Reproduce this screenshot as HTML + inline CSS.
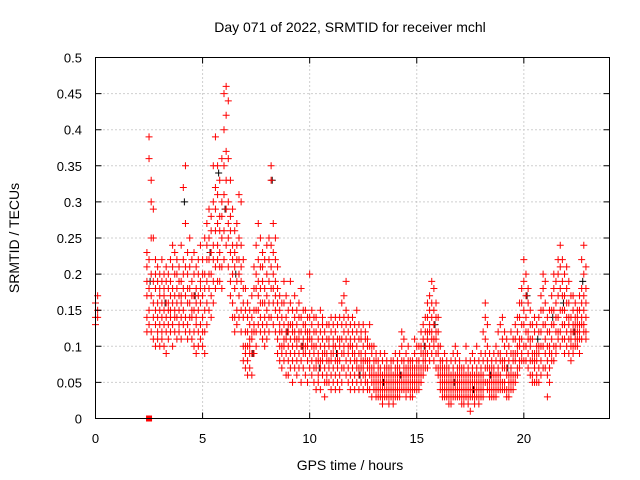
<!DOCTYPE html>
<html><head><meta charset="utf-8">
<style>
html,body{margin:0;padding:0;background:#fff;}
svg{display:block;font-family:"Liberation Sans",sans-serif;}
</style></head>
<body>
<svg id="chart" width="640" height="480" viewBox="0 0 640 480" xmlns="http://www.w3.org/2000/svg">
<rect x="0" y="0" width="640" height="480" fill="#fff"/>
<g id="grid"></g>
<g id="black-series"></g>
<g id="red-series"></g>
<rect x="95.5" y="57.5" width="514" height="361" fill="none" stroke="#000" stroke-width="1"/>
<g id="axes"></g>
<text x="350" y="32" font-size="14" text-anchor="middle">Day 071 of 2022, SRMTID for receiver mchl</text>
<text x="350" y="470" font-size="14" text-anchor="middle">GPS time / hours</text>
<text x="19" y="238" font-size="14" text-anchor="middle" transform="rotate(-90 19 238)">SRMTID / TECUs</text>
</svg>
<script>
const xTicks=[0,5,10,15,20];
const yTicks=[0,0.05,0.1,0.15,0.2,0.25,0.3,0.35,0.4,0.45,0.5];
const yTickLabels=["0","0.05","0.1","0.15","0.2","0.25","0.3","0.35","0.4","0.45","0.5"];
const hours=[0.0,0.1,2.4,2.5,2.6,2.7,2.8,2.9,3.0,3.1,3.2,3.3,3.4,3.5,3.6,3.7,3.8,3.9,4.0,4.1,4.2,4.3,4.4,4.5,4.6,4.7,4.8,4.9,5.0,5.1,5.2,5.3,5.4,5.5,5.6,5.7,5.8,5.9,6.0,6.1,6.2,6.3,6.4,6.5,6.6,6.7,6.8,6.9,7.0,7.1,7.2,7.3,7.4,7.5,7.6,7.7,7.8,7.9,8.0,8.1,8.2,8.3,8.4,8.5,8.6,8.7,8.8,8.9,9.0,9.1,9.2,9.3,9.4,9.5,9.6,9.7,9.8,9.9,10.0,10.1,10.2,10.3,10.4,10.5,10.6,10.7,10.8,10.9,11.0,11.1,11.2,11.3,11.4,11.5,11.6,11.7,11.8,11.9,12.0,12.1,12.2,12.3,12.4,12.5,12.6,12.7,12.8,12.9,13.0,13.1,13.2,13.3,13.4,13.5,13.6,13.7,13.8,13.9,14.0,14.1,14.2,14.3,14.4,14.5,14.6,14.7,14.8,14.9,15.0,15.1,15.2,15.3,15.4,15.5,15.6,15.7,15.8,15.9,16.0,16.1,16.2,16.3,16.4,16.5,16.6,16.7,16.8,16.9,17.0,17.1,17.2,17.3,17.4,17.5,17.6,17.7,17.8,17.9,18.0,18.1,18.2,18.3,18.4,18.5,18.6,18.7,18.8,18.9,19.0,19.1,19.2,19.3,19.4,19.5,19.6,19.7,19.8,19.9,20.0,20.1,20.2,20.3,20.4,20.5,20.6,20.7,20.8,20.9,21.0,21.1,21.2,21.3,21.4,21.5,21.6,21.7,21.8,21.9,22.0,22.1,22.2,22.3,22.4,22.5,22.6,22.7,22.8,22.9];
const srmtid=[
[.14,.16,.13],[.15,.17,.14],
[.17,.21,.14,.19,.23,.12],[.39,.36,.18,.15,.22,.13],[.30,.33,.25,.12,.17,.20],[.29,.25,.16,.11,.19,.14],[.18,.22,.10,.15,.13,.20],[.16,.12,.19,.14,.21,.11],
[.15,.20,.13,.17,.10,.18],[.14,.19,.12,.16,.22,.11],[.17,.13,.20,.15,.10,.18],[.16,.21,.14,.12,.19,.09],[.13,.18,.15,.20,.11,.16],[.19,.14,.22,.12,.17,.15],[.16,.21,.13,.18,.10,.24],[.20,.15,.17,.12,.23,.14],[.18,.22,.14,.16,.11,.20],[.15,.19,.13,.21,.17,.12],
[.17,.24,.14,.19,.11,.16],[.32,.20,.15,.18,.13,.22],[.35,.27,.17,.14,.21,.12],[.18,.23,.13,.16,.20,.11],[.16,.21,.12,.25,.14,.18],[.19,.14,.22,.17,.11,.15],[.15,.20,.12,.23,.17,.10],[.13,.18,.16,.21,.09,.14],[.17,.12,.20,.15,.10,.22],[.16,.19,.13,.24,.11,.18],
[.14,.20,.17,.10,.22,.12],[.18,.15,.25,.12,.20,.09],[.22,.27,.16,.19,.13,.24],[.25,.20,.29,.15,.22,.18],[.23,.17,.28,.20,.14,.26],[.30,.24,.35,.19,.22,.16],[.39,.26,.32,.21,.18,.29],[.35,.27,.22,.31,.19,.24],[.28,.23,.33,.19,.26,.21],[.30,.36,.25,.21,.28,.18],
[.45,.40,.31,.26,.22,.35],[.46,.42,.37,.29,.24,.33],[.44,.36,.30,.27,.21,.25],[.33,.28,.23,.19,.26,.17],[.29,.24,.20,.16,.22,.14],[.26,.21,.18,.14,.23,.12],[.24,.19,.22,.15,.27,.13],[.31,.22,.17,.25,.14,.20],[.30,.19,.24,.15,.21,.12],[.18,.14,.22,.10,.16,.08],
[.15,.10,.12,.07,.18,.09],[.12,.08,.14,.06,.10,.16],[.10,.13,.07,.11,.09,.15],[.14,.09,.12,.06,.17,.11],[.18,.12,.15,.09,.21,.13],[.20,.15,.24,.12,.18,.10],[.22,.17,.27,.13,.19,.15],[.25,.18,.21,.14,.16,.12],[.21,.16,.19,.13,.23,.11],[.18,.14,.22,.12,.16,.10],
[.17,.13,.20,.11,.15,.24],[.22,.16,.25,.12,.19,.14],[.35,.33,.24,.18,.14,.21],[.27,.20,.16,.23,.13,.18],[.25,.19,.15,.22,.12,.17],[.21,.14,.18,.11,.16,.09],[.17,.12,.15,.08,.13,.10],[.14,.10,.12,.07,.16,.09],[.16,.11,.13,.08,.19,.10],[.14,.09,.12,.06,.11,.17],
[.12,.08,.15,.10,.06,.13],[.16,.11,.09,.13,.07,.19],[.13,.10,.15,.08,.12,.05],[.11,.14,.09,.17,.07,.12],[.10,.13,.08,.15,.06,.11],[.12,.09,.16,.07,.11,.14],[.14,.10,.18,.08,.12,.05],[.11,.15,.09,.13,.07,.10],[.13,.09,.12,.06,.15,.10],[.10,.14,.08,.11,.05,.12],
[.20,.12,.09,.14,.07,.11],[.11,.08,.13,.06,.10,.15],[.09,.12,.07,.14,.05,.10],[.10,.07,.12,.08,.14,.04],[.08,.11,.06,.13,.09,.05],[.12,.08,.15,.07,.10,.04],[.09,.13,.06,.11,.08,.14],[.10,.07,.12,.05,.09,.03],[.08,.11,.06,.13,.09,.05],[.11,.07,.10,.05,.08,.13],
[.09,.06,.12,.08,.14,.04],[.10,.07,.13,.05,.09,.11],[.12,.08,.06,.10,.04,.14],[.09,.13,.07,.11,.05,.08],[.11,.08,.14,.06,.10,.04],[.13,.09,.07,.16,.11,.05],[.17,.12,.09,.14,.07,.10],[.19,.15,.11,.08,.13,.06],[.14,.10,.07,.12,.05,.09],[.11,.08,.13,.06,.10,.04],
[.10,.07,.12,.05,.09,.14],[.08,.11,.06,.13,.04,.09],[.10,.07,.12,.05,.08,.15],[.09,.06,.11,.04,.13,.07],[.11,.07,.09,.05,.12,.08],[.08,.10,.06,.13,.04,.07],[.09,.06,.11,.05,.08,.12],[.07,.10,.05,.08,.04,.11],[.08,.06,.10,.04,.07,.13],[.06,.09,.05,.07,.03,.10],
[.07,.05,.08,.04,.10,.06],[.05,.08,.04,.06,.03,.09],[.06,.04,.07,.03,.05,.08],[.05,.07,.03,.06,.04,.09],[.04,.06,.03,.05,.08,.02],[.06,.04,.07,.03,.05,.09],[.05,.07,.03,.06,.04,.08],[.04,.06,.02,.05,.07,.03],[.06,.04,.08,.03,.05,.07],[.05,.03,.06,.04,.08,.02],
[.06,.04,.07,.03,.05,.09],[.05,.08,.04,.06,.03,.07],[.07,.05,.09,.04,.06,.03],[.10,.06,.08,.04,.12,.05],[.08,.05,.11,.04,.07,.06],[.06,.09,.04,.07,.05,.03],[.07,.05,.08,.04,.06,.10],[.05,.07,.04,.06,.03,.08],[.06,.04,.08,.05,.07,.03],[.07,.05,.09,.04,.06,.11],
[.06,.08,.05,.07,.04,.10],[.08,.06,.10,.05,.07,.04],[.07,.10,.06,.09,.05,.12],[.09,.07,.11,.06,.08,.13],[.10,.08,.12,.07,.09,.14],[.11,.09,.14,.07,.12,.16],[.12,.10,.15,.08,.13,.17],[.14,.11,.16,.09,.19,.12],[.13,.10,.15,.08,.18,.11],[.12,.09,.14,.07,.11,.16],
[.10,.07,.12,.06,.09,.14],[.08,.06,.10,.05,.07,.04],[.06,.04,.08,.03,.05,.07],[.05,.07,.04,.06,.03,.09],[.06,.04,.07,.03,.05,.08],[.05,.03,.06,.04,.07,.02],[.04,.06,.03,.05,.08,.02],[.06,.04,.07,.03,.05,.09],[.05,.08,.04,.06,.03,.10],[.07,.05,.09,.04,.06,.03],
[.06,.04,.08,.03,.05,.07],[.05,.07,.03,.06,.04,.02],[.04,.06,.02,.05,.07,.03],[.06,.04,.08,.03,.05,.10],[.05,.03,.07,.04,.06,.02],[.04,.06,.03,.05,.08,.01],[.05,.07,.03,.06,.04,.09],[.06,.04,.08,.03,.05,.02],[.05,.07,.03,.06,.04,.10],[.04,.06,.02,.05,.08,.03],
[.06,.04,.09,.03,.05,.07],[.08,.05,.12,.04,.06,.03],[.16,.11,.07,.14,.05,.09],[.10,.07,.13,.05,.08,.04],[.07,.05,.09,.03,.06,.04],[.05,.08,.04,.06,.03,.07],[.06,.04,.07,.03,.05,.09],[.08,.05,.10,.04,.06,.03],[.07,.12,.05,.09,.04,.06],[.09,.06,.13,.05,.08,.04],
[.08,.05,.11,.04,.07,.14],[.07,.10,.05,.08,.04,.12],[.06,.09,.04,.07,.03,.11],[.08,.05,.10,.04,.06,.03],[.07,.04,.09,.05,.06,.12],[.06,.09,.05,.08,.04,.11],[.08,.11,.06,.09,.05,.13],[.10,.07,.12,.06,.09,.14],[.11,.08,.14,.07,.10,.16],[.13,.09,.16,.08,.11,.18],
[.22,.15,.19,.10,.13,.08],[.20,.14,.17,.10,.12,.08],[.16,.12,.18,.09,.11,.07],[.13,.10,.15,.08,.11,.06],[.11,.08,.13,.06,.09,.05],[.09,.07,.12,.05,.08,.14],[.10,.08,.13,.06,.09,.05],[.12,.09,.14,.07,.10,.05],[.15,.10,.17,.08,.12,.06],[.18,.13,.10,.15,.07,.20],
[.16,.11,.19,.09,.13,.07],[.14,.10,.08,.12,.06,.03],[.12,.09,.15,.07,.10,.05],[.15,.11,.17,.09,.13,.08],[.18,.13,.20,.10,.15,.08],[.16,.12,.19,.10,.14,.09],[.20,.14,.17,.11,.22,.12],[.24,.18,.15,.21,.12,.10],[.19,.15,.22,.13,.17,.11],[.17,.13,.20,.11,.15,.09],
[.18,.14,.16,.12,.21,.10],[.16,.13,.19,.11,.14,.09],[.14,.11,.17,.10,.12,.08],[.13,.10,.15,.12,.09,.17],[.12,.14,.10,.16,.11,.13],[.14,.11,.13,.10,.15,.12],[.15,.12,.17,.11,.13,.09],[.22,.18,.13,.16,.11,.14],[.24,.20,.15,.12,.17,.13],[.21,.18,.16,.12,.14,.11]
];
const blackHours=[2.55,3.25,4.15,4.65,5.35,5.75,6.05,6.55,7.35,8.25,8.95,9.65,10.45,11.25,12.35,13.45,14.25,15.35,15.85,16.75,17.65,18.45,19.25,20.15,20.65,21.35,21.85,22.35,22.75];
const blackVals=[.19,.16,.30,.17,.23,.34,.29,.20,.09,.33,.12,.10,.07,.09,.06,.05,.06,.10,.13,.05,.04,.06,.07,.17,.11,.14,.16,.12,.19];
const markerHours=[2.5];
const markerVals=[0];

const NS="http://www.w3.org/2000/svg";
const X0=95.5,X1=609.5,Y0=418.5,Y1=57.5;
function xs(h){return X0+(h/24)*(X1-X0);}
function ys(v){return Y0-(v/0.5)*(Y0-Y1);}
function mk(tag,attrs,parent){const e=document.createElementNS(NS,tag);for(const k in attrs)e.setAttribute(k,attrs[k]);parent.appendChild(e);return e;}

const grid=document.getElementById('grid'),axes=document.getElementById('axes');
xTicks.forEach(t=>{
  const x=xs(t);
  if(t>0){const g=mk('line',{x1:x,y1:Y0,x2:x,y2:Y1,stroke:'#a0a0a0','stroke-dasharray':'1,3','stroke-width':1},grid);
  
  }
  const tk=mk('path',{d:`M${x},${Y0}v-6M${x},${Y1}v6`,stroke:'#000','stroke-width':1},axes);
  
  
  const lb=mk('text',{x:x,y:443,'font-size':13,'text-anchor':'middle'},axes);lb.textContent=String(t);
  
  
});
yTicks.forEach((t,i)=>{
  const y=ys(t);
  if(t>0&&t<0.5){const g=mk('line',{x1:X0,y1:y,x2:X1,y2:y,stroke:'#a0a0a0','stroke-dasharray':'1,3','stroke-width':1},grid);
  
  }
  const tk=mk('path',{d:`M${X0},${y}h6M${X1},${y}h-6`,stroke:'#000','stroke-width':1},axes);
  
  
  const lb=mk('text',{x:82,y:y+5,'font-size':13,'text-anchor':'end'},axes);lb.textContent=yTickLabels[i];
  
  
});
function plus(x,y,color,parent,name){
  const p=mk('path',{d:`M${x-3.5},${y}h7M${x},${y-3.5}v7`,stroke:color,'stroke-width':1,fill:'none'},parent);
  
  
}
const bk=document.getElementById('black-series'),rd=document.getElementById('red-series');
blackHours.forEach((h,i)=>plus(xs(h),ys(blackVals[i]),'#000',bk,'black-point'));
hours.forEach((h,i)=>srmtid[i].forEach(v=>plus(xs(h),ys(v),'#f00',rd,'red-point')));
markerHours.forEach((h,i)=>{
  const r=mk('rect',{x:xs(h)-3,y:ys(markerVals[i])-3,width:6,height:6,fill:'#f00'},rd);
  
  
});
</script>
</body></html>
